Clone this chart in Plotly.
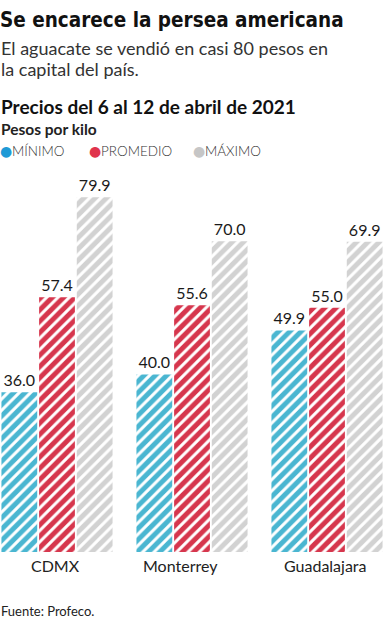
import plotly.graph_objects as go

# ---- data ----
categories = ["CDMX", "Monterrey", "Guadalajara"]
series_names = ["MÍNIMO", "PROMEDIO", "MÁXIMO"]
minimo = [36.0, 40.0, 49.9]
promedio = [57.4, 55.6, 55.0]
maximo = [79.9, 70.0, 69.9]

bar_colors = ["#4ab6d1", "#d6364d", "#d2d2d2"]
dot_colors = ["#1f9ad6", "#e0344c", "#c6c6c6"]

title = "Se encarece la persea americana"
subtitle_lines = ["El aguacate se vendió en casi 80 pesos en", "la capital del país."]
chart_title = "Precios del 6 al 12 de abril de 2021"
unit_label = "Pesos por kilo"
source = "Fuente: Profeco."

W, H = 384, 620
TOP, BOTTOM = 180, 552  # plot area pixel top/bottom
PX_PER_UNIT = 4.44
ymax = (BOTTOM - TOP) / PX_PER_UNIT

FONT = "Lato, Open Sans, sans-serif"

fig = go.Figure()
for name, vals, col in zip(series_names, [minimo, promedio, maximo], bar_colors):
    fig.add_trace(go.Bar(
        x=categories, y=vals, name=name,
        marker=dict(color=col, line=dict(width=0),
                    pattern=dict(shape="/", size=8, solidity=0.62, fillmode="replace")),
        text=[f"{v:.1f}" for v in vals], textposition="outside",
        textfont=dict(family=FONT, size=16, color="#1a1a1a"),
        cliponaxis=False, showlegend=False, hoverinfo="skip",
    ))

def py(p):
    return (BOTTOM - p) / (BOTTOM - TOP)

ann = []
ann.append(dict(text=title, x=0, xref="paper", y=py(20), yref="paper", xanchor="left", yanchor="middle",
                showarrow=False, xshift=-2,
                font=dict(family="DejaVu Sans Condensed, Liberation Sans Narrow, sans-serif",
                          size=20.5, weight="bold", color="#111")))
for i, line in enumerate(subtitle_lines):
    ann.append(dict(text=line, x=0, xref="paper", y=py(48 + 21 * i), yref="paper", xanchor="left",
                    yanchor="middle", showarrow=False, xshift=-1,
                    font=dict(family=FONT, size=18, color="#333")))
ann.append(dict(text=f"<b>{chart_title}</b>", x=0, xref="paper", y=py(107), yref="paper", xanchor="left",
                yanchor="middle", showarrow=False, xshift=-1,
                font=dict(family=FONT, size=19, color="#111")))
ann.append(dict(text=f"<b>{unit_label}</b>", x=0, xref="paper", y=py(129), yref="paper", xanchor="left",
                yanchor="middle", showarrow=False, xshift=-1,
                font=dict(family=FONT, size=15.5, color="#222")))
legend_x = [0, 89, 193]
for name, col, lx in zip(series_names, dot_colors, legend_x):
    ann.append(dict(text="●", x=lx / W, xref="paper", y=py(151), yref="paper", xanchor="left",
                    yanchor="middle", showarrow=False, xshift=-2,
                    font=dict(family="DejaVu Sans", size=14, color=col)))
    ann.append(dict(text=name, x=(lx + 11) / W, xref="paper", y=py(151), yref="paper", xanchor="left",
                    yanchor="middle", showarrow=False, xshift=-1,
                    font=dict(family=FONT, size=13.5, weight=300, color="#333")))
ann.append(dict(text=source, x=0, xref="paper", y=py(611), yref="paper", xanchor="left",
                yanchor="middle", showarrow=False, xshift=-1,
                font=dict(family=FONT, size=13, color="#222")))
# category labels
label_shift = [-2, -12, -2]
for cat, sh in zip(categories, label_shift):
    ann.append(dict(text=cat, x=cat, xref="x", y=py(565), yref="paper", xanchor="center",
                    yanchor="middle", showarrow=False, xshift=sh,
                    font=dict(family=FONT, size=16, color="#222")))

k = 135.0
r0 = -57 / k
fig.update_layout(
    width=W, height=H,
    margin=dict(l=0, r=0, t=TOP, b=H - BOTTOM, pad=0),
    paper_bgcolor="white", plot_bgcolor="white",
    barmode="group", bargap=0.163, bargroupgap=0.05,
    annotations=ann,
    xaxis=dict(range=[r0, r0 + W / k], showgrid=False, zeroline=False, showline=False,
               ticks="", showticklabels=False, fixedrange=True),
    yaxis=dict(range=[0, ymax], visible=False, fixedrange=True),
    font=dict(family=FONT),
    hovermode=False,
)
fig.write_html("out.html", config={"displayModeBar": False},
               post_script="document.body.style.margin='0';")
